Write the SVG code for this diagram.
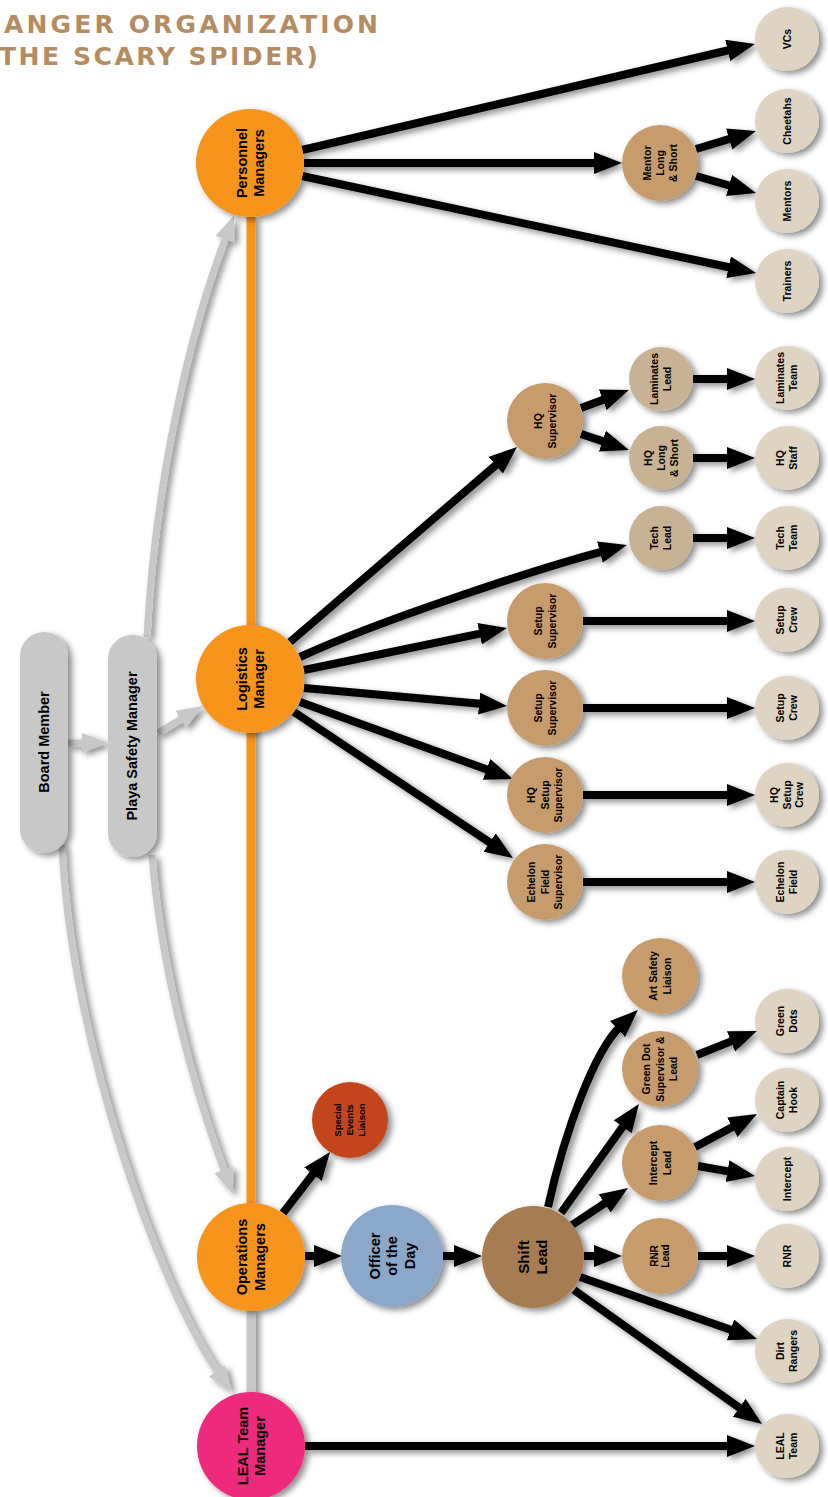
<svg xmlns="http://www.w3.org/2000/svg" width="828" height="1497" viewBox="0 0 828 1497">
<style>
.t{font-family:"Liberation Sans",Arial,sans-serif;font-weight:bold;fill:#000;text-anchor:middle}
.big{font-size:14.5px}
.mid{font-size:10.5px}
.sm{font-size:10px}
.title{font-family:"DejaVu Sans","Liberation Sans",sans-serif;font-weight:bold;font-size:25px;fill:#b48c62}
.blk{fill:none;stroke:#000;stroke-width:8;marker-end:url(#ah)}
.gry{fill:none;stroke:#c8c8c8;stroke-width:7;marker-end:url(#ahg)}
.org{fill:#f7941d}
.med{fill:#c69c6d}
.lmed{fill:#c9b293}
.lt{fill:#dfd3c1}
.pill{fill:#c8c8c8}
</style>
<defs>
<filter id="sh" filterUnits="userSpaceOnUse" x="0" y="0" width="828" height="1497">
<feDropShadow dx="4" dy="3" stdDeviation="3" flood-color="#000" flood-opacity="0.45"/>
</filter>
<marker id="ah" markerUnits="userSpaceOnUse" markerWidth="30" markerHeight="24" refX="4" refY="11" orient="auto">
<path d="M0,0 L28,11 L0,22 z" fill="#000"/>
</marker>
<marker id="ahg" markerUnits="userSpaceOnUse" markerWidth="28" markerHeight="22" refX="4" refY="10" orient="auto">
<path d="M0,0 L26,10 L0,20 z" fill="#c8c8c8"/>
</marker>
</defs>
<rect width="828" height="1497" fill="#fff"/>
<g id="title">
<text class="title" x="4" y="33" textLength="374" lengthAdjust="spacing">ANGER ORGANIZATION</text>
<text class="title" x="-1" y="65" textLength="319" lengthAdjust="spacing">THE SCARY SPIDER)</text>
</g>
<g id="connectors" filter="url(#sh)">
<line x1="251" y1="217" x2="251" y2="1204" stroke="#f7941d" stroke-width="9"/>
<line x1="251" y1="1309" x2="251" y2="1393" stroke="#c8c8c8" stroke-width="9"/>
<path class="gry" d="M68,743 L86,743"/>
<path class="gry" d="M158,733 L184.1,717.3"/>
<path class="gry" d="M147,637 C155,480 190,330 226.3,235.8"/>
<path class="gry" d="M152,855 C160,960 190,1080 225.2,1173.4"/>
<path class="gry" d="M62,845 C70,1040 160,1290 219.3,1374"/>
<path class="blk" d="M302,150 L731.6,49.5"/>
<path class="blk" d="M304,163 L598,163"/>
<path class="blk" d="M302,176 L732.5,268"/>
<path class="blk" d="M696,149 L733,137.9"/>
<path class="blk" d="M696,176 L732.9,186.5"/>
<path class="blk" d="M290,642 L498.8,462.6"/>
<path class="blk" d="M300,657 C380,620 540,568 603.8,551.1"/>
<path class="blk" d="M304,670 L483.5,632.9"/>
<path class="blk" d="M304,688 L483.1,703.9"/>
<path class="blk" d="M300,702 L490.4,770.8"/>
<path class="blk" d="M294,712 L493,844.7"/>
<path class="blk" d="M583,621 L731,621"/>
<path class="blk" d="M583,708 L731,708"/>
<path class="blk" d="M583,795 L731,795"/>
<path class="blk" d="M583,882 L731,882"/>
<path class="blk" d="M581,408 L606.5,398.4"/>
<path class="blk" d="M581,434 L606.2,442.4"/>
<path class="blk" d="M693,379 L731,379"/>
<path class="blk" d="M693,458 L731,458"/>
<path class="blk" d="M693,538 L731,538"/>
<path class="blk" d="M283,1213 L315.4,1171"/>
<path class="blk" d="M305,1256 L318,1256"/>
<path class="blk" d="M443,1256 L458,1256"/>
<path class="blk" d="M584,1256 L598,1256"/>
<path class="blk" d="M698,1256 L731,1256"/>
<path class="blk" d="M580,1277 L734.3,1331.1"/>
<path class="blk" d="M574,1290 L742.5,1410.1"/>
<path class="blk" d="M305,1446 L731,1446"/>
<path class="blk" d="M548,1207 C565,1130 595,1050 620.4,1026.3"/>
<path class="blk" d="M561,1213 L625,1123.5"/>
<path class="blk" d="M572,1225 L608,1201.2"/>
<path class="blk" d="M697,1055 L734.7,1039.9"/>
<path class="blk" d="M695,1147 L735.8,1125.3"/>
<path class="blk" d="M698,1166 L731.4,1171.9"/>
</g>
<g id="board-member"><rect class="pill" x="20" y="632" width="48" height="221" rx="24" filter="url(#sh)"/>
<text class="t big" transform="translate(44,742) rotate(-90)" y="5.2">Board Member</text></g>
<g id="playa-safety-manager"><rect class="pill" x="108" y="635" width="49" height="222" rx="24" filter="url(#sh)"/>
<text class="t big" transform="translate(132,746) rotate(-90)" y="5.2">Playa Safety Manager</text></g>
<g id="personnel-managers"><circle class="org" cx="250" cy="163" r="54" filter="url(#sh)"/>
<text class="t big" transform="translate(250,163) rotate(-90)"><tspan x="0" y="-3.3">Personnel</tspan><tspan x="0" y="13.7">Managers</tspan></text></g>
<g id="logistics-manager"><circle class="org" cx="250" cy="679" r="54" filter="url(#sh)"/>
<text class="t big" transform="translate(250,679) rotate(-90)"><tspan x="0" y="-3.3">Logistics</tspan><tspan x="0" y="13.7">Manager</tspan></text></g>
<g id="operations-managers"><circle class="org" cx="251" cy="1257" r="54" filter="url(#sh)"/>
<text class="t big" transform="translate(251,1257) rotate(-90)"><tspan x="0" y="-3.8">Operations</tspan><tspan x="0" y="14.2">Managers</tspan></text></g>
<g id="leal-team-manager"><circle cx="251" cy="1446" r="54" fill="#ee2a7b" filter="url(#sh)"/>
<text class="t big" transform="translate(251,1446) rotate(-90)"><tspan x="0" y="-3.3">LEAL Team</tspan><tspan x="0" y="13.7">Manager</tspan></text></g>
<g id="officer-of-the-day"><circle cx="392" cy="1256" r="51" fill="#8ba8c8" filter="url(#sh)"/>
<text class="t big" transform="translate(392,1256) rotate(-90)"><tspan x="0" y="-12.3">Officer</tspan><tspan x="0" y="5.2">of the</tspan><tspan x="0" y="22.7">Day</tspan></text></g>
<g id="shift-lead"><circle cx="533" cy="1257" r="51" fill="#a67c52" filter="url(#sh)"/>
<text class="t" style="font-size:15px" transform="translate(533,1257) rotate(-90)"><tspan x="0" y="-3.6">Shift</tspan><tspan x="0" y="14.4">Lead</tspan></text></g>
<g id="special-events-liaison"><circle cx="350" cy="1120" r="38" fill="#c4441a" filter="url(#sh)"/>
<text class="t" style="font-size:9.5px" transform="translate(350,1120) rotate(-90)"><tspan x="0" y="-8.6">Special</tspan><tspan x="0" y="3.4">Events</tspan><tspan x="0" y="15.4">Liaison</tspan></text></g>
<g id="mentor-long-short"><circle class="med" cx="660" cy="163" r="38" filter="url(#sh)"/>
<text class="t mid" transform="translate(660,163) rotate(-90)"><tspan x="0" y="-9.2">Mentor</tspan><tspan x="0" y="3.8">Long</tspan><tspan x="0" y="16.8">&amp; Short</tspan></text></g>
<g id="hq-supervisor"><circle class="med" cx="545" cy="421" r="38" filter="url(#sh)"/>
<text class="t mid" transform="translate(545,421) rotate(-90)"><tspan x="0" y="-3">HQ</tspan><tspan x="0" y="10.6">Supervisor</tspan></text></g>
<g id="setup-supervisor-1"><circle class="med" cx="545" cy="621" r="38" filter="url(#sh)"/>
<text class="t mid" transform="translate(545,621) rotate(-90)"><tspan x="0" y="-3">Setup</tspan><tspan x="0" y="10.6">Supervisor</tspan></text></g>
<g id="setup-supervisor-2"><circle class="med" cx="545" cy="708" r="38" filter="url(#sh)"/>
<text class="t mid" transform="translate(545,708) rotate(-90)"><tspan x="0" y="-3">Setup</tspan><tspan x="0" y="10.6">Supervisor</tspan></text></g>
<g id="hq-setup-supervisor"><circle class="med" cx="545" cy="795" r="38" filter="url(#sh)"/>
<text class="t mid" transform="translate(545,795) rotate(-90)"><tspan x="0" y="-9.7">HQ</tspan><tspan x="0" y="3.8">Setup</tspan><tspan x="0" y="17.3">Supervisor</tspan></text></g>
<g id="echelon-field-supervisor"><circle class="med" cx="545" cy="882" r="38" filter="url(#sh)"/>
<text class="t mid" transform="translate(545,882) rotate(-90)"><tspan x="0" y="-9.7">Echelon</tspan><tspan x="0" y="3.8">Field</tspan><tspan x="0" y="17.3">Supervisor</tspan></text></g>
<g id="laminates-lead"><circle class="lmed" cx="661" cy="379" r="32" filter="url(#sh)"/>
<text class="t mid" transform="translate(661,379) rotate(-90)"><tspan x="0" y="-2.7">Laminates</tspan><tspan x="0" y="10.3">Lead</tspan></text></g>
<g id="hq-long-short"><circle class="lmed" cx="661" cy="458" r="32" filter="url(#sh)"/>
<text class="t mid" transform="translate(661,458) rotate(-90)"><tspan x="0" y="-9.2">HQ</tspan><tspan x="0" y="3.8">Long</tspan><tspan x="0" y="16.8">&amp; Short</tspan></text></g>
<g id="tech-lead"><circle class="lmed" cx="661" cy="538" r="32" filter="url(#sh)"/>
<text class="t mid" transform="translate(661,538) rotate(-90)"><tspan x="0" y="-2.7">Tech</tspan><tspan x="0" y="10.3">Lead</tspan></text></g>
<g id="art-safety-liaison"><circle class="med" cx="660" cy="976" r="38" filter="url(#sh)"/>
<text class="t mid" transform="translate(660,976) rotate(-90)"><tspan x="0" y="-3">Art Safety</tspan><tspan x="0" y="10.6">Liaison</tspan></text></g>
<g id="green-dot-supervisor-lead"><circle class="med" cx="660" cy="1069" r="38" filter="url(#sh)"/>
<text class="t mid" transform="translate(660,1069) rotate(-90)"><tspan x="0" y="-9.7">Green Dot</tspan><tspan x="0" y="3.8">Supervisor &amp;</tspan><tspan x="0" y="17.3">Lead</tspan></text></g>
<g id="intercept-lead"><circle class="med" cx="660" cy="1163" r="38" filter="url(#sh)"/>
<text class="t mid" transform="translate(660,1163) rotate(-90)"><tspan x="0" y="-3">Intercept</tspan><tspan x="0" y="10.6">Lead</tspan></text></g>
<g id="rnr-lead"><circle class="med" cx="660" cy="1256" r="38" filter="url(#sh)"/>
<text class="t sm" transform="translate(660,1256) rotate(-90)"><tspan x="0" y="-2.2">RNR</tspan><tspan x="0" y="9.4">Lead</tspan></text></g>
<g id="vcs"><circle class="lt" cx="787" cy="39" r="32" filter="url(#sh)"/>
<text class="t mid" transform="translate(787,39) rotate(-90)" y="3.8">VCs</text></g>
<g id="cheetahs"><circle class="lt" cx="787" cy="121" r="32" filter="url(#sh)"/>
<text class="t mid" transform="translate(787,121) rotate(-90)" y="3.8">Cheetahs</text></g>
<g id="mentors"><circle class="lt" cx="787" cy="201" r="32" filter="url(#sh)"/>
<text class="t mid" transform="translate(787,201) rotate(-90)" y="3.8">Mentors</text></g>
<g id="trainers"><circle class="lt" cx="787" cy="281" r="32" filter="url(#sh)"/>
<text class="t mid" transform="translate(787,281) rotate(-90)" y="3.8">Trainers</text></g>
<g id="laminates-team"><circle class="lt" cx="787" cy="378" r="32" filter="url(#sh)"/>
<text class="t mid" transform="translate(787,378) rotate(-90)"><tspan x="0" y="-2.7">Laminates</tspan><tspan x="0" y="10.3">Team</tspan></text></g>
<g id="hq-staff"><circle class="lt" cx="787" cy="458" r="32" filter="url(#sh)"/>
<text class="t mid" transform="translate(787,458) rotate(-90)"><tspan x="0" y="-2.7">HQ</tspan><tspan x="0" y="10.3">Staff</tspan></text></g>
<g id="tech-team"><circle class="lt" cx="787" cy="538" r="32" filter="url(#sh)"/>
<text class="t mid" transform="translate(787,538) rotate(-90)"><tspan x="0" y="-2.7">Tech</tspan><tspan x="0" y="10.3">Team</tspan></text></g>
<g id="setup-crew-1"><circle class="lt" cx="787" cy="620" r="32" filter="url(#sh)"/>
<text class="t mid" transform="translate(787,620) rotate(-90)"><tspan x="0" y="-2.7">Setup</tspan><tspan x="0" y="10.3">Crew</tspan></text></g>
<g id="setup-crew-2"><circle class="lt" cx="787" cy="708" r="32" filter="url(#sh)"/>
<text class="t mid" transform="translate(787,708) rotate(-90)"><tspan x="0" y="-2.7">Setup</tspan><tspan x="0" y="10.3">Crew</tspan></text></g>
<g id="hq-setup-crew"><circle class="lt" cx="787" cy="795" r="32" filter="url(#sh)"/>
<text class="t mid" transform="translate(787,795) rotate(-90)"><tspan x="0" y="-8.7">HQ</tspan><tspan x="0" y="3.8">Setup</tspan><tspan x="0" y="16.3">Crew</tspan></text></g>
<g id="echelon-field"><circle class="lt" cx="787" cy="882" r="32" filter="url(#sh)"/>
<text class="t mid" transform="translate(787,882) rotate(-90)"><tspan x="0" y="-2.7">Echelon</tspan><tspan x="0" y="10.3">Field</tspan></text></g>
<g id="green-dots"><circle class="lt" cx="787" cy="1021" r="32" filter="url(#sh)"/>
<text class="t mid" transform="translate(787,1021) rotate(-90)"><tspan x="0" y="-2.7">Green</tspan><tspan x="0" y="10.3">Dots</tspan></text></g>
<g id="captain-hook"><circle class="lt" cx="787" cy="1100" r="32" filter="url(#sh)"/>
<text class="t mid" transform="translate(787,1100) rotate(-90)"><tspan x="0" y="-2.7">Captain</tspan><tspan x="0" y="10.3">Hook</tspan></text></g>
<g id="intercept"><circle class="lt" cx="787" cy="1179" r="32" filter="url(#sh)"/>
<text class="t mid" transform="translate(787,1179) rotate(-90)" y="3.8">Intercept</text></g>
<g id="rnr"><circle class="lt" cx="787" cy="1256" r="32" filter="url(#sh)"/>
<text class="t mid" transform="translate(787,1256) rotate(-90)" y="3.8">RNR</text></g>
<g id="dirt-rangers"><circle class="lt" cx="787" cy="1351" r="32" filter="url(#sh)"/>
<text class="t mid" transform="translate(787,1351) rotate(-90)"><tspan x="0" y="-2.7">Dirt</tspan><tspan x="0" y="10.3">Rangers</tspan></text></g>
<g id="leal-team"><circle class="lt" cx="787" cy="1446" r="32" filter="url(#sh)"/>
<text class="t mid" transform="translate(787,1446) rotate(-90)"><tspan x="0" y="-2.7">LEAL</tspan><tspan x="0" y="10.3">Team</tspan></text></g>
</svg>
